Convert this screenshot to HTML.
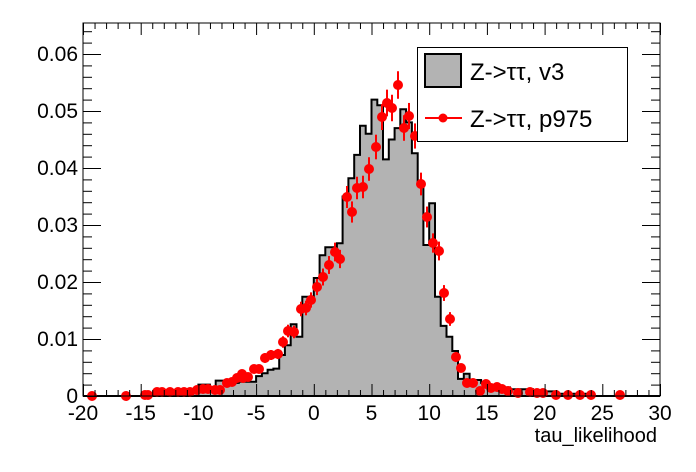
<!DOCTYPE html>
<html><head><meta charset="utf-8">
<style>
html,body{margin:0;padding:0;background:#fff;}
svg{display:block;font-family:"Liberation Sans",Arial,sans-serif;}
</style></head>
<body>
<svg id="s" width="696" height="472" viewBox="0 0 696 472" xmlns="http://www.w3.org/2000/svg">
<rect width="696" height="472" fill="#fff"/>
<g id="hist"></g>
<g id="pts"></g>
<rect x="83" y="23" width="577" height="373" fill="none" stroke="#000" stroke-width="1"/>
<g id="ticks" stroke="#000" stroke-width="1"></g>
<g id="labels" font-size="21" fill="#000"></g>
<text x="657" y="442" font-size="20" text-anchor="end">tau_likelihood</text>
<rect x="417.5" y="47.5" width="210" height="94" fill="#fff" stroke="#000" stroke-width="1"/>
<rect x="425" y="54" width="36" height="33" fill="#b3b3b3" stroke="#000" stroke-width="2"/>
<text x="470" y="80" font-size="24">Z-&gt;ττ, v3</text>
<line x1="425" y1="118" x2="462" y2="118" stroke="#f00" stroke-width="2"/>
<circle cx="443" cy="118" r="4.5" fill="#f00"/>
<text x="470" y="127" font-size="24">Z-&gt;ττ, p975</text>
</svg>
<script>
var NS="http://www.w3.org/2000/svg";
function X(v){return 83+(v+20)*11.54;}
function Y(v){return 396-v*5700;}
function el(t,a,p){var e=document.createElementNS(NS,t);for(var k in a)e.setAttribute(k,a[k]);p.appendChild(e);return e;}
var vals={};
for(var k=-40;k<60;k++)vals[k]=0;
function set(a,b,v){for(var k=a;k<=b;k++)vals[k]=v;}
set(-26,-24,0.0005);set(-23,-21,0.001);set(-20,-19,0.002);set(-18,-18,0.001);
set(-17,-16,0.0027);set(-15,-14,0.0023);set(-13,-11,0.0025);
var core={"-10":0.0035,"-9":0.004,"-8":0.0046,"-7":0.0048,"-6":0.0072,"-5":0.0089,"-4":0.0126,"-3":0.0104,
"-2":0.0174,"-1":0.0174,"0":0.0207,"1":0.0247,"2":0.0261,"3":0.0261,"4":0.0268,"5":0.035,"6":0.0382,"7":0.0423,
"8":0.0474,"9":0.046,"10":0.052,"11":0.051,"12":0.0415,"13":0.045,"14":0.047,"15":0.0503,"16":0.048,"17":0.0426,
"18":0.0375,"19":0.0265,"20":0.0338,"21":0.0174,"22":0.0123,"23":0.0104,"24":0.0079,"25":0.003,"26":0.0039,
"27":0.0028,"28":0.0028,"29":0.0023};
for(var c in core)vals[+c]=core[c];
set(30,33,0.0015);set(34,37,0.0012);set(38,41,0.0008);set(42,47,0.0004);
var d="M"+X(-20)+" "+Y(0);
for(var k=-40;k<60;k++){var x0=X(k*0.5),x1=X(k*0.5+0.5),y=Y(vals[k]);d+=" L"+x0.toFixed(1)+" "+y.toFixed(1)+" L"+x1.toFixed(1)+" "+y.toFixed(1);}
d+=" L"+X(30)+" "+Y(0)+" Z";
var h=document.getElementById("hist");
el("path",{d:d,fill:"#b3b3b3",stroke:"none"},h);
el("path",{d:d,fill:"none",stroke:"#000","stroke-width":2},h);
var P=[[92,396],[126,396],[145,395],[148,395],[157,392],[162,392],[170,392],[178,392],[184,392],[190,392],[197,390],[203,389],[208,389],[215,390],[220,390],[227,383],[232,382],[237,378],[243,378],[248,377],[242,374],[254,369],[259,369],[265,358],[271,355],[278,354],[283,342],[288,331],[294,332],[301,309],[306,308],[311,300],[317,287],[323,277],[329,265],[335,252],[340,259],[347,197],[352,212],[357,188],[363,187],[369,169],[376,147],[382,117],[387,103],[392,108],[398,85],[404,128],[409,116],[415,136],[421,184],[427,217],[433,243],[439,251],[444,293],[450,319],[456,357],[461,368],[467,383],[473,383],[480,391],[486,384],[491,388],[497,387],[502,389],[508,391],[518,393],[530,392],[537,393],[543,393],[556,395],[568,395],[580,395],[591,395],[620,395]];
var g=document.getElementById("pts");
P.forEach(function(p){var v=Math.max(0,(396-p[1])/5700);var e=12.5*Math.sqrt(v/0.045);
if(e>2)el("line",{x1:p[0],y1:p[1]-e,x2:p[0],y2:Math.min(396,p[1]+e),stroke:"#f00","stroke-width":2},g);
el("circle",{cx:p[0],cy:p[1],r:5,fill:"#f00"},g);});
var t=document.getElementById("ticks"),L=document.getElementById("labels");
for(var i=0;i<=50;i++){var v=-20+i,x=X(v)+0.5,maj=(v%5===0),len=maj?12:6;
el("line",{x1:x,y1:396,x2:x,y2:396-len},t);el("line",{x1:x,y1:23,x2:x,y2:23+len},t);
if(maj){var tx=el("text",{x:X(v),y:420,"text-anchor":"middle"},L);tx.textContent=String(v);}}
for(var i=0;i<=32;i++){var v=i*0.002,y=Y(v)+0.5;if(y<23)break;var maj=(i%5===0),len=maj?18:9;
el("line",{x1:83,y1:y,x2:83+len,y2:y},t);el("line",{x1:660,y1:y,x2:660-len,y2:y},t);
if(maj){var tx=el("text",{x:78,y:Y(v)+7,"text-anchor":"end"},L);tx.textContent=(i===0?"0":(v).toFixed(2));}}
</script>
</body></html>
